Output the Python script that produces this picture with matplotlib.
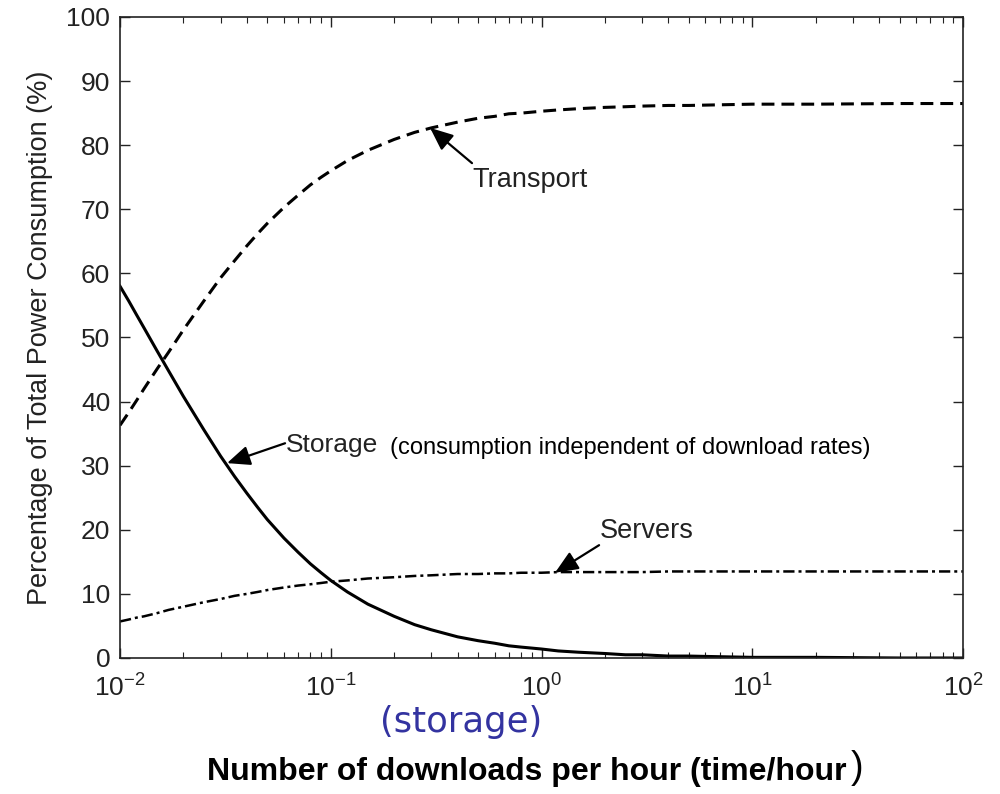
import matplotlib.pyplot as plt
import numpy as np

# === DATA ===
rate = [0.01, 0.011, 0.012, 0.013, 0.015, 0.017, 0.02, 0.025, 0.03, 0.035,
        0.04, 0.045, 0.05, 0.06, 0.07, 0.08, 0.09, 0.1, 0.12, 0.15,
        0.2, 0.25, 0.3, 0.4, 0.5, 0.6, 0.7, 0.8, 1, 1.2,
        1.5, 2, 2.5, 3, 4, 5, 7, 10, 20, 50, 100]
storage = [58.0, 55.7, 53.5, 51.5, 47.9, 44.8, 40.8, 35.6, 31.5, 28.3,
           25.7, 23.5, 21.6, 18.7, 16.5, 14.7, 13.3, 12.1, 10.3, 8.4,
           6.5, 5.2, 4.4, 3.3, 2.7, 2.3, 1.9, 1.7, 1.4, 1.1,
           0.9, 0.7, 0.5, 0.5, 0.3, 0.3, 0.2, 0.1, 0.1, 0.0, 0.0]
transport = [36.3, 38.3, 40.2, 42.0, 45.1, 47.7, 51.2, 55.7, 59.3, 62.0,
             64.3, 66.2, 67.8, 70.3, 72.2, 73.8, 75.0, 76.0, 77.6, 79.2,
             80.9, 82.0, 82.7, 83.6, 84.2, 84.5, 84.9, 85.0, 85.3, 85.5,
             85.7, 85.9, 86.0, 86.1, 86.2, 86.2, 86.3, 86.4, 86.4, 86.5, 86.5]
servers = [5.7, 6.0, 6.3, 6.5, 7.0, 7.5, 8.0, 8.7, 9.2, 9.7,
           10.0, 10.3, 10.6, 11.0, 11.3, 11.5, 11.7, 11.9, 12.1, 12.4,
           12.6, 12.8, 12.9, 13.1, 13.1, 13.2, 13.2, 13.3, 13.3, 13.4,
           13.4, 13.4, 13.4, 13.4, 13.5, 13.5, 13.5, 13.5, 13.5, 13.5, 13.5]

yticks = [0, 10, 20, 30, 40, 50, 60, 70, 80, 90, 100]

plt.rcParams['font.family'] = ['Liberation Sans', 'DejaVu Sans']
plt.rcParams['mathtext.fontset'] = 'custom'
plt.rcParams['mathtext.rm'] = 'Liberation Sans'
plt.rcParams['mathtext.it'] = 'Liberation Sans'

fig = plt.figure(figsize=(10, 7.94), dpi=100)
ax = fig.add_axes([0.12, 0.1713, 0.843, 0.8073])

ax.plot(rate, transport, color='black', lw=2.2, dashes=(4.2, 2.3))
ax.plot(rate, storage, color='black', lw=2.2)
ax.plot(rate, servers, color='black', lw=1.8, dashes=(4.5, 1.6, 1.2, 1.6))

ax.set_xscale('log')
ax.set_xlim(1e-2, 1e2)
ax.set_ylim(0, 100)
ax.set_yticks(yticks)
ax.tick_params(which='both', direction='in', top=True, right=True, labelsize=19,
               colors='#222222')
ax.tick_params(which='major', length=7, width=1)
ax.tick_params(which='minor', length=4, width=0.8)
ax.tick_params(axis='x', pad=12)
ax.tick_params(axis='y', pad=7)
for s in ax.spines.values():
    s.set_linewidth(1.2)
    s.set_color('#222222')

ax.set_ylabel('Percentage of Total Power Consumption (%)', fontsize=19.5, color='#222222',
              labelpad=10)

arrow = dict(arrowstyle='-|>,head_length=0.7,head_width=0.3', color='black', lw=1.6,
             mutation_scale=20, shrinkA=0, shrinkB=0)

# labels with arrows
ax.annotate('', xy=(0.296, 82.7), xytext=(0.468, 77.2), arrowprops=arrow)
ax.text(0.47, 73.5, 'Transport', fontsize=19.5, ha='left', va='baseline', color='#222222')

ax.annotate('', xy=(0.0322, 30.4), xytext=(0.0607, 33.5), arrowprops=arrow)
ax.text(0.0615, 32.1, 'Storage', fontsize=19, ha='left', va='baseline', color='#222222')
ax.text(0.191, 31.8, '(consumption independent of download rates)', fontsize=17,
        ha='left', va='baseline')

ax.annotate('', xy=(1.159, 13.3), xytext=(1.876, 17.6), arrowprops=arrow)
ax.text(1.9, 18.7, 'Servers', fontsize=19.5, ha='left', va='baseline', color='#222222')

fig.text(0.461, 0.091, '(storage)', fontsize=25.5, color='#3333A0', ha='center', va='center',
         family='DejaVu Sans')
fig.text(0.527, 0.028, 'Number of downloads per hour (time/hour', fontsize=23,
         fontweight='bold', ha='center', va='center')
fig.text(0.851, 0.033, ')', fontsize=27, ha='left', va='center')

fig.savefig('out.png', dpi=100)
